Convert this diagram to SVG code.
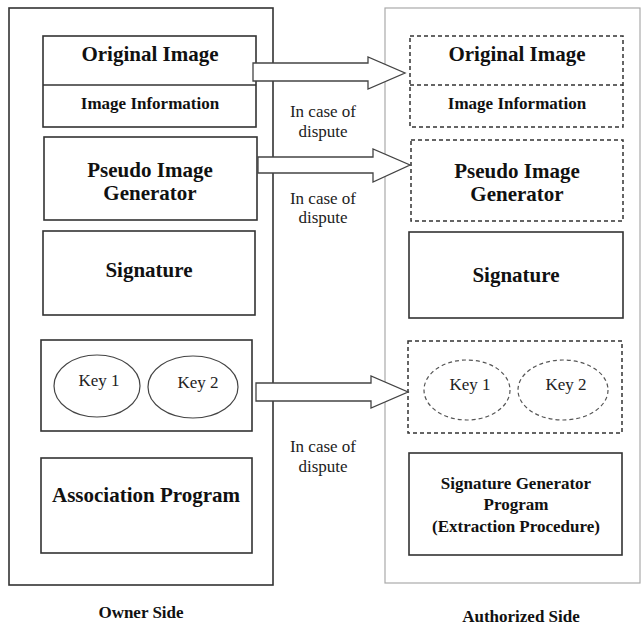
<svg xmlns="http://www.w3.org/2000/svg" width="644" height="628" viewBox="0 0 644 628">
<style>
.box{fill:#fff;stroke:#333;stroke-width:1.6}
.dash{fill:#fff;stroke:#333;stroke-width:1.5;stroke-dasharray:4 3}
.dashe{fill:none;stroke:#555;stroke-width:1.2;stroke-dasharray:4 3}
.ell{fill:#fff;stroke:#444;stroke-width:1.2}
text{font-family:'Liberation Serif','Times New Roman','DejaVu Serif',serif;text-anchor:middle}
.b{font-weight:bold;fill:#111}
.r{fill:#222}
.arr{fill:#fff;stroke:#444;stroke-width:1.3}
</style>
<rect width="644" height="628" fill="#fff"/>
<g id="owner-side">
<rect x="9" y="8" width="264" height="577" fill="#fff" stroke="#333" stroke-width="1.6"/>
<text class="b" x="141" y="618" font-size="17">Owner Side</text>
</g>
<g id="authorized-side">
<rect x="385" y="8" width="255" height="575" fill="#fff" stroke="#aaa" stroke-width="1.2"/>
<text class="b" x="521" y="622" font-size="17">Authorized Side</text>
</g>
<g id="owner-original-image">
<rect class="box" x="43" y="36" width="213" height="91"/>
<line x1="43" y1="85" x2="256" y2="85" stroke="#333" stroke-width="1.4"/>
<text class="b" x="150" y="61" font-size="21">Original Image</text>
<text class="b" x="150" y="109" font-size="17">Image Information</text>
</g>
<g id="owner-pseudo">
<rect class="box" x="44" y="137" width="213" height="83"/>
<text class="b" x="150" y="177" font-size="21">Pseudo Image</text>
<text class="b" x="150" y="200" font-size="21">Generator</text>
</g>
<g id="owner-signature">
<rect class="box" x="43" y="231" width="212" height="84"/>
<text class="b" x="149" y="277" font-size="21">Signature</text>
</g>
<g id="owner-keys">
<rect class="box" x="41" y="340" width="211" height="91"/>
<ellipse class="ell" cx="97" cy="386" rx="43" ry="31"/>
<ellipse class="ell" cx="193" cy="387" rx="45" ry="31"/>
<text class="r" x="99" y="386" font-size="17">Key 1</text>
<text class="r" x="198" y="388" font-size="17">Key 2</text>
</g>
<g id="owner-association">
<rect class="box" x="41" y="458" width="211" height="95"/>
<text class="b" x="146" y="502" font-size="21">Association Program</text>
</g>
<g id="auth-original-image">
<rect class="dash" x="410" y="36" width="213" height="91"/>
<line x1="410" y1="85" x2="623" y2="85" stroke="#333" stroke-width="1.4" stroke-dasharray="4 3"/>
<text class="b" x="517" y="61" font-size="21">Original Image</text>
<text class="b" x="517" y="109" font-size="17">Image Information</text>
</g>
<g id="auth-pseudo">
<rect class="dash" x="411" y="140" width="212" height="81"/>
<text class="b" x="517" y="178" font-size="21">Pseudo Image</text>
<text class="b" x="517" y="201" font-size="21">Generator</text>
</g>
<g id="auth-signature">
<rect class="box" x="409" y="232" width="214" height="86"/>
<text class="b" x="516" y="282" font-size="21">Signature</text>
</g>
<g id="auth-keys">
<rect class="dash" x="408" y="341" width="214" height="92"/>
<ellipse class="dashe" cx="467" cy="390" rx="43" ry="30"/>
<ellipse class="dashe" cx="563" cy="390" rx="45" ry="30"/>
<text class="r" x="470" y="390" font-size="17">Key 1</text>
<text class="r" x="566" y="390" font-size="17">Key 2</text>
</g>
<g id="auth-sig-generator">
<rect class="box" x="409" y="453" width="213" height="102"/>
<text class="b" x="516" y="489" font-size="17">Signature Generator</text>
<text class="b" x="516" y="510" font-size="17">Program</text>
<text class="b" x="516" y="532" font-size="17">(Extraction Procedure)</text>
</g>
<g id="connectors">
<polygon class="arr" points="253,63 368,63 368,57 405,73 368,89 368,81 253,81"/>
<polygon class="arr" points="258,157 373,157 373,149 410,165 373,182 373,173 258,173"/>
<polygon class="arr" points="256,383 371,383 371,376 408,392 371,408 371,401 256,401"/>
<text class="r" x="323" y="117" font-size="17">In case of</text>
<text class="r" x="323" y="137" font-size="17">dispute</text>
<text class="r" x="323" y="204" font-size="17">In case of</text>
<text class="r" x="323" y="223" font-size="17">dispute</text>
<text class="r" x="323" y="452" font-size="17">In case of</text>
<text class="r" x="323" y="472" font-size="17">dispute</text>
</g>
</svg>
